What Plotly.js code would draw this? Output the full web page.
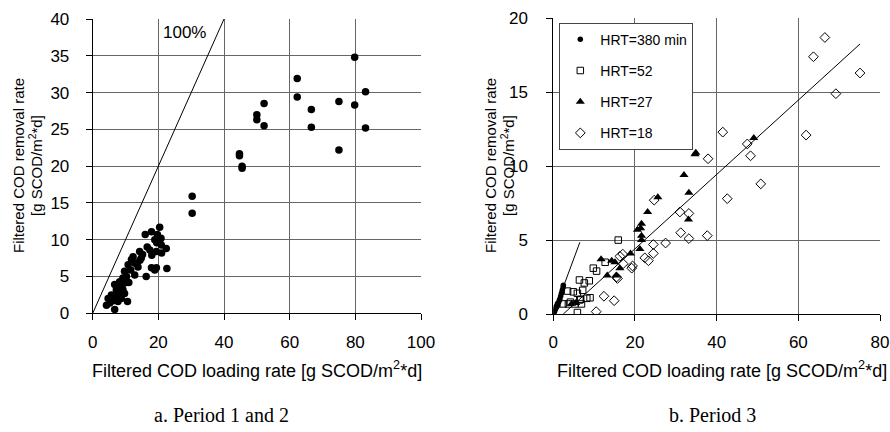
<!DOCTYPE html>
<html>
<head>
<meta charset="utf-8">
<script src="https://cdn.plot.ly/plotly-3.0.1.min.js"></script>
<style>html,body{margin:0;padding:0;background:#fff;}#chart{width:890px;height:432px;}</style>
</head>
<body>
<div id="chart"></div>
<script>
// ---- Panel a: Period 1 and 2 ----
var p12X = [20.4,17.9,16.0,19.7,18.9,20.4,20.9,16.6,22.4,19.4,14.3,17.4,12.3,11.8,14.8,13.3,10.8,13.8,17.9,19.4,22.6,18.9,11.6,9.7,12.8,16.3,9.2,8.2,10.3,6.7,8.5,7.2,9.2,5.7,7.7,9.7,4.7,8.7,10.6,5.2,4.2,6.7,6.2,7.7,
            21.0,18.0,19.5,20.8,12.9,14.4,15.2,11.0,9.6,7.8,6.2,5.5,8.0,
            30.3,30.3,44.7,44.7,45.5,45.5,50.0,50.0,52.2,52.2,62.3,62.3,66.6,66.6,75.0,75.0,79.8,79.8,83.1,83.1];
var p12Y = [11.7,11.1,10.7,10.7,10.0,10.0,9.3,9.0,8.8,8.4,8.4,8.6,7.7,7.3,7.5,6.8,6.6,6.3,6.2,6.2,6.1,5.9,5.9,5.7,5.2,5.0,4.8,4.3,5.0,3.9,3.6,3.2,3.2,2.5,2.5,2.7,2.0,2.0,1.6,1.4,1.1,0.5,1.7,1.6,
            8.2,7.9,9.6,10.2,6.8,7.2,8.0,4.2,4.1,3.5,2.3,1.8,2.9,
            15.9,13.6,21.7,21.4,20.0,19.7,27.0,26.3,28.5,25.5,31.9,29.4,27.7,25.3,28.8,22.2,34.8,28.3,30.1,25.2];
var line100X = [0, 40];
var line100Y = [0, 40];

// ---- Panel b: Period 3 ----
var hrt380X = [0.3,0.5,0.7,0.8,1.0,1.1,1.3,1.5,1.6,1.8,2.0,2.2,2.4,2.45];
var hrt380Y = [0.15,0.3,0.5,0.45,0.7,0.6,0.8,0.95,1.0,1.2,1.4,1.6,1.8,1.95];
var hrt52X = [15.9,9.8,10.6,12.7,6.4,7.6,8.8,3.5,4.9,5.9,8.2,9.0,6.5,5.3,6.9,2.4,3.7,5.9,7.2,4.2,6.7];
var hrt52Y = [5.0,3.1,2.9,3.5,2.3,2.1,2.25,1.55,1.5,1.4,1.06,1.1,0.95,0.68,0.68,0.68,0.68,0.1,1.6,0.8,1.0];
var hrt27X = [49.1,34.7,34.9,32.0,33.2,25.6,23.1,21.6,20.6,21.4,21.6,21.6,33.1,21.2,18.9,11.7,14.3,15.1,16.3,13.2,15.4,4.5,5.5];
var hrt27Y = [11.9,10.8,10.9,9.4,8.2,7.9,6.9,6.1,5.7,5.8,5.3,5.0,6.4,4.4,4.1,3.7,3.6,3.5,3.1,2.6,2.6,0.7,0.75];
var hrt18X = [66.5,63.7,75.1,69.2,61.9,41.5,47.5,48.3,50.8,42.6,37.9,24.7,31.0,33.2,31.2,33.2,37.7,27.5,24.5,24.5,22.4,23.3,19.4,19.2,17.1,16.3,17.0,15.5,15.7,12.4,14.9,10.5];
var hrt18Y = [18.7,17.4,16.3,14.9,12.1,12.3,11.5,10.7,8.8,7.8,10.5,7.7,6.9,6.8,5.5,5.1,5.3,4.8,4.7,4.1,3.8,3.6,3.25,3.1,3.4,3.9,4.05,2.5,2.4,1.2,0.9,0.16];
var steepX = [0, 6.5];
var steepY = [0, 4.85];
var fitX = [2.45, 75.1];
var fitY = [0, 18.26];

var legendNames = ['HRT=380 min', 'HRT=52', 'HRT=27', 'HRT=18'];

var F = 'Liberation Sans, Arial, sans-serif';
var traces = [
  {x: p12X, y: p12Y, xaxis: 'x', yaxis: 'y', type: 'scatter', mode: 'markers', showlegend: false,
   marker: {symbol: 'circle', size: 7.5, color: '#000'}},
  {x: line100X, y: line100Y, xaxis: 'x', yaxis: 'y', type: 'scatter', mode: 'lines', showlegend: false,
   line: {color: '#000', width: 1}},
  {x: hrt380X, y: hrt380Y, xaxis: 'x2', yaxis: 'y2', type: 'scatter', mode: 'markers', name: legendNames[0], legendgroup: 'a',
   marker: {symbol: 'circle', size: 5.5, color: '#000'}},
  {x: hrt52X, y: hrt52Y, xaxis: 'x2', yaxis: 'y2', type: 'scatter', mode: 'markers', name: legendNames[1], legendgroup: 'b',
   marker: {symbol: 'square-open', size: 6.5, color: '#000', line: {width: 1}}},
  {x: hrt27X, y: hrt27Y, xaxis: 'x2', yaxis: 'y2', type: 'scatter', mode: 'markers', name: legendNames[2], legendgroup: 'c',
   marker: {symbol: 'triangle-up', size: 8, color: '#000'}},
  {x: hrt18X, y: hrt18Y, xaxis: 'x2', yaxis: 'y2', type: 'scatter', mode: 'markers', name: legendNames[3], legendgroup: 'd',
   marker: {symbol: 'diamond-open', size: 7.5, color: '#000', line: {width: 1}}},
  {x: steepX, y: steepY, xaxis: 'x2', yaxis: 'y2', type: 'scatter', mode: 'lines', showlegend: false,
   line: {color: '#000', width: 1}},
  {x: fitX, y: fitY, xaxis: 'x2', yaxis: 'y2', type: 'scatter', mode: 'lines', showlegend: false,
   line: {color: '#000', width: 1}}
];

function ax(extra) {
  var base = {showline: true, linecolor: '#000', linewidth: 1, ticks: 'outside', ticklen: 6, tickcolor: '#000',
    tickwidth: 1, showgrid: true, gridcolor: '#666', gridwidth: 1, zeroline: false, fixedrange: true,
    tickfont: {family: F, size: 17, color: '#000'}, ticklabelstandoff: 7};
  for (var k in extra) base[k] = extra[k];
  return base;
}

var titleFont = {family: F, size: 15, color: '#000'};
var capFont = {family: 'Liberation Serif, Times New Roman, serif', size: 20, color: '#000'};

var layout = {
  width: 890, height: 432,
  margin: {l: 0, r: 0, t: 0, b: 0},
  paper_bgcolor: '#fff', plot_bgcolor: '#fff',
  showlegend: true,
  legend: {x: 559.3/890, y: 1 - 22.7/432, xanchor: 'left', yanchor: 'top', bgcolor: '#fff',
    bordercolor: '#444', borderwidth: 1, font: {family: F, size: 14, color: '#000'},
    traceorder: 'grouped', tracegroupgap: 10, itemwidth: 30},
  xaxis: ax({domain: [92.7/890, 421/890], range: [0, 100], dtick: 20, tick0: 0, anchor: 'y'}),
  yaxis: ax({domain: [1 - 313.3/432, 1 - 19/432], range: [0, 40], dtick: 5, tick0: 0, anchor: 'x', ticklabelstandoff: 13}),
  xaxis2: ax({domain: [553.3/890, 880/890], range: [0, 80], dtick: 20, tick0: 0, anchor: 'y2'}),
  yaxis2: ax({domain: [1 - 314/432, 1 - 18.3/432], range: [0, 20], dtick: 5, tick0: 0, anchor: 'x2', ticklabelstandoff: 15}),
  annotations: [
    {xref: 'x', yref: 'y', x: 28.1, y: 38.1, text: '100%', showarrow: false, font: {family: F, size: 17, color: '#000'}},
    {xref: 'paper', yref: 'paper', x: 18/890, y: 1 - 166/432, text: 'Filtered COD removal rate', textangle: -90,
     showarrow: false, font: titleFont, xanchor: 'center', yanchor: 'middle'},
    {xref: 'paper', yref: 'paper', x: 35/890, y: 1 - 166/432, text: '[g SCOD/m<sup>2</sup>*d]', textangle: -90,
     showarrow: false, font: titleFont, xanchor: 'center', yanchor: 'middle'},
    {xref: 'paper', yref: 'paper', x: 490/890, y: 1 - 166/432, text: 'Filtered COD removal rate', textangle: -90,
     showarrow: false, font: titleFont, xanchor: 'center', yanchor: 'middle'},
    {xref: 'paper', yref: 'paper', x: 507/890, y: 1 - 166/432, text: '[g SCOD/m<sup>2</sup>*d]', textangle: -90,
     showarrow: false, font: titleFont, xanchor: 'center', yanchor: 'middle'},
    {xref: 'paper', yref: 'paper', x: 257/890, y: 1 - 369/432, text: 'Filtered COD loading rate [g SCOD/m<sup>2</sup>*d]',
     showarrow: false, font: {family: F, size: 18, color: '#000'}, xanchor: 'center', yanchor: 'middle'},
    {xref: 'paper', yref: 'paper', x: 722/890, y: 1 - 369/432, text: 'Filtered COD loading rate [g SCOD/m<sup>2</sup>*d]',
     showarrow: false, font: {family: F, size: 18, color: '#000'}, xanchor: 'center', yanchor: 'middle'},
    {xref: 'paper', yref: 'paper', x: 221/890, y: 1 - 415/432, text: 'a. Period 1 and 2',
     showarrow: false, font: capFont, xanchor: 'center', yanchor: 'middle'},
    {xref: 'paper', yref: 'paper', x: 712/890, y: 1 - 415/432, text: 'b. Period 3',
     showarrow: false, font: capFont, xanchor: 'center', yanchor: 'middle'}
  ]
};

Plotly.newPlot('chart', traces, layout, {staticPlot: true, displayModeBar: false});
</script>
</body>
</html>
